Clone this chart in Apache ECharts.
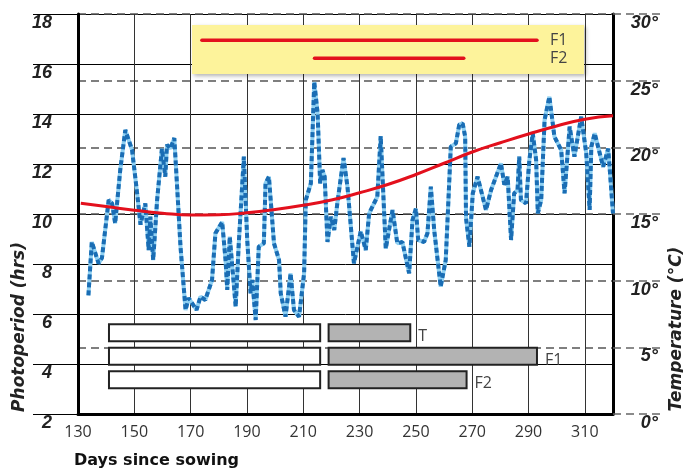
<!DOCTYPE html>
<html>
<head>
<meta charset="utf-8">
<script src="https://cdn.jsdelivr.net/npm/echarts@6/dist/echarts.min.js"></script>
<style>
  html, body { margin: 0; padding: 0; background: #fff; }
  #main { width: 683px; height: 470px; }
</style>
</head>
<body>
<div id="main"></div>
<script>
// photoperiod (red, left axis)
var photoDays = [131, 140, 150, 160, 170, 180, 190, 200, 210, 220, 230, 240, 250, 260, 270, 280, 290, 300, 310, 320];
var photoHrs = [10.43, 10.3, 10.15, 10.03, 9.96, 9.97, 10.05, 10.18, 10.35, 10.56, 10.85, 11.18, 11.58, 12.03, 12.48, 12.85, 13.2, 13.52, 13.79, 13.93];

// daily temperature (blue, right axis)
var tempDays = [133.7, 134.9, 137.3, 138.5, 140.9, 142.1, 143.2, 145.0, 146.8, 149.2, 151.0, 152.2, 153.9, 155.1, 155.7, 156.7, 158.1, 159.8, 161.0, 161.6,
  162.8, 164.2, 165.2, 166.4, 168.2, 169.3, 172.1, 173.5, 175.2, 177.6, 178.8, 181.2, 182.4, 183.0, 183.9, 184.8, 186.0, 187.1, 188.9, 190.1,
  191.3, 191.9, 193.1, 194.2, 196.0, 196.6, 197.8, 199.6, 201.4, 202.0, 203.7, 205.5, 206.7, 208.5, 210.3, 210.9, 212.7, 213.9, 215.1, 216.0,
  216.8, 217.6, 218.6, 219.8, 221.0, 222.1, 224.3, 225.7, 228.0, 230.4, 232.2, 233.4, 236.3, 237.5, 239.3, 241.7, 243.4, 245.2, 247.6, 248.8,
  250.0, 250.8, 252.9, 254.1, 255.3, 256.5, 258.8, 260.6, 262.4, 264.2, 265.4, 266.6, 267.5, 267.8, 269.0, 270.2, 271.9, 274.9, 276.7, 280.2,
  281.4, 282.6, 283.8, 284.9, 286.1, 286.7, 287.3, 289.1, 290.3, 291.5, 292.7, 293.3, 294.5, 295.7, 297.4, 299.2, 301.6, 302.8, 304.6, 306.3,
  308.7, 310.5, 311.7, 312.3, 313.5, 316.5, 318.3, 320.0];
var tempVals = [8.9, 12.9, 11.3, 11.7, 16.05, 15.8, 14.3, 18.3, 21.3, 19.8, 16.55, 14.2, 15.8, 12.3, 14.8, 11.55, 16.05, 19.9, 17.8, 20.2,
  19.9, 20.7, 17.05, 12.55, 7.8, 8.7, 7.8, 8.8, 8.55, 10.05, 13.55, 14.4, 11.55, 9.3, 13.3, 11.05, 8.05, 12.8, 19.3, 13.05,
  9.05, 10.05, 7.05, 12.55, 12.8, 17.3, 17.8, 12.8, 11.55, 9.05, 7.3, 10.55, 7.8, 7.3, 10.55, 16.05, 17.3, 24.9, 22.55, 17.3,
  18.3, 17.8, 12.9, 14.8, 13.8, 15.8, 19.2, 17.05, 11.3, 13.7, 12.3, 15.05, 16.3, 20.85, 12.4, 15.3, 12.8, 12.9, 10.55, 14.55,
  15.4, 13.05, 12.9, 13.55, 17.05, 13.8, 9.55, 11.55, 20.05, 20.3, 21.7, 21.8, 20.8, 14.7, 12.55, 16.55, 17.8, 15.3, 16.8, 18.8,
  17.2, 17.8, 13.05, 16.55, 16.8, 19.3, 16.05, 15.8, 19.05, 21.05, 19.05, 15.05, 16.05, 22.05, 23.8, 20.8, 19.8, 16.55, 21.55, 19.3,
  22.3, 19.55, 15.3, 20.05, 21.05, 18.55, 19.9, 15.05];

// phase bars (rows T, F1, F2): white phase then grey phase
var phaseRows = ['T', 'F1', 'F2'];
var vegStart = [141, 141, 141];
var vegEnd = [216, 216, 216];
var repStart = [219, 219, 219];
var repEnd = [248, 293, 268];

// legend lines in the yellow box
var f1Days = [174, 293];
var f2Days = [214, 267];
var f1Level = 16.95;
var f2Level = 16.23;

function pairs(xs, ys) {
  var out = [];
  for (var i = 0; i < xs.length; i++) out.push([xs[i], ys[i]]);
  return out;
}

var barData = [];
for (var i = 0; i < phaseRows.length; i++) {
  barData.push([i, vegStart[i], vegEnd[i], 0]);
  barData.push([i, repStart[i], repEnd[i], 1]);
}

var numFont = { fontFamily: 'Liberation Sans', fontStyle: 'italic', fontWeight: 'bold', fontSize: 18, color: '#222' };

var chart = echarts.init(document.getElementById('main'), null, { renderer: 'canvas' });

var option = {
  animation: false,
  grid: [
    { left: 78, right: 70, top: 14, bottom: 56 },
    { left: 78, right: 70, top: 321, height: 70.5 }
  ],
  xAxis: [{
    type: 'value', gridIndex: 0, min: 130, max: 320, interval: 20,
    axisLine: { lineStyle: { color: '#000', width: 3 } },
    axisTick: { show: false },
    splitLine: { show: true, lineStyle: { color: '#333', width: 1 } },
    axisLabel: { margin: 10, fontSize: 16, color: '#333', fontFamily: 'Open Sans', showMaxLabel: false,
      formatter: function (v) { return v >= 320 ? '' : v; } }
  }, {
    type: 'value', gridIndex: 1, min: 130, max: 320, show: false
  }],
  yAxis: [{
    type: 'value', gridIndex: 0, min: 2, max: 18, interval: 2, position: 'left',
    axisLine: { show: true, lineStyle: { color: '#000', width: 3 } },
    axisTick: { show: true, length: 45, lineStyle: { color: '#000', width: 1 } },
    splitLine: { show: true, lineStyle: { color: '#000', width: 1 } },
    axisLabel: Object.assign({ margin: 26, align: 'right', verticalAlign: 'top' }, numFont)
  }, {
    type: 'value', gridIndex: 0, min: 0, max: 30, interval: 5, position: 'right',
    axisLine: { show: true, lineStyle: { color: '#000', width: 3 } },
    axisTick: { show: true, length: 47, lineStyle: { color: '#666', width: 1.5, type: [8, 5] } },
    splitLine: { show: true, lineStyle: { color: '#555', width: 1.5, type: [8, 5] } },
    axisLabel: Object.assign({ margin: 45, align: 'right', verticalAlign: 'top', formatter: '{value}°' }, numFont)
  }, {
    type: 'category', gridIndex: 1, data: phaseRows, inverse: true, show: false
  }],
  graphic: [
    { type: 'rect', z: 3, shape: { x: 192, y: 25, width: 392, height: 49 },
      style: { fill: '#fdf39b', shadowBlur: 4, shadowColor: 'rgba(0,0,0,0.3)', shadowOffsetX: 2, shadowOffsetY: 2 } },
    { type: 'text', z: 5, x: 550, y: 40, style: { text: 'F1', fill: '#444', font: '16px "Open Sans"', verticalAlign: 'middle' } },
    { type: 'text', z: 5, x: 550, y: 58, style: { text: 'F2', fill: '#444', font: '16px "Open Sans"', verticalAlign: 'middle' } },
    { type: 'text', x: 20, y: 327, rotation: Math.PI / 2,
      style: { text: 'Photoperiod (hrs)', fill: '#222', font: 'italic bold 17px "DejaVu Sans"', align: 'center', verticalAlign: 'middle' } },
    { type: 'text', x: 677, y: 329, rotation: Math.PI / 2,
      style: { text: 'Temperature (°C)', fill: '#222', font: 'italic bold 17px "DejaVu Sans"', align: 'center', verticalAlign: 'middle' } },
    { type: 'text', x: 74, y: 461,
      style: { text: 'Days since sowing', fill: '#111', font: 'bold 16px "DejaVu Sans"', verticalAlign: 'middle' } }
  ],
  series: [
    // temperature: light base + dark dashes
    { type: 'line', xAxisIndex: 0, yAxisIndex: 1, data: pairs(tempDays, tempVals), showSymbol: false, z: 2,
      lineStyle: { color: '#8fd0f2', width: 4 } },
    { type: 'line', xAxisIndex: 0, yAxisIndex: 1, data: pairs(tempDays, tempVals), showSymbol: false, z: 2,
      lineStyle: { color: '#1a6db4', width: 4, type: [5, 3] } },
    // photoperiod
    { type: 'line', xAxisIndex: 0, yAxisIndex: 0, data: pairs(photoDays, photoHrs), smooth: true, showSymbol: false, z: 3,
      lineStyle: { color: '#e3101d', width: 3 } },
    // legend box lines
    { type: 'line', xAxisIndex: 0, yAxisIndex: 0, data: [[f1Days[0], f1Level], [f1Days[1], f1Level]], showSymbol: false, z: 4,
      lineStyle: { color: '#e3101d', width: 3.5, cap: 'round' } },
    { type: 'line', xAxisIndex: 0, yAxisIndex: 0, data: [[f2Days[0], f2Level], [f2Days[1], f2Level]], showSymbol: false, z: 4,
      lineStyle: { color: '#e3101d', width: 3.5, cap: 'round' } },
    // phase bars
    {
      type: 'custom', xAxisIndex: 1, yAxisIndex: 2, data: barData, z: 4,
      renderItem: function (params, api) {
        var row = api.value(0);
        var s = api.coord([api.value(1), row]);
        var e = api.coord([api.value(2), row]);
        var h = api.size([0, 1])[1] * 0.72;
        var grey = api.value(3) === 1;
        var kids = [{
          type: 'rect',
          shape: { x: s[0], y: s[1] - h / 2, width: e[0] - s[0], height: h },
          style: { fill: grey ? '#b3b3b3' : '#fff', stroke: '#222', lineWidth: 2 }
        }];
        if (grey) {
          kids.push({
            type: 'text', x: e[0] + 8, y: e[1] + 4,
            style: { text: phaseRows[row], fill: '#444', font: '16px "Open Sans"', verticalAlign: 'middle' }
          });
        }
        return { type: 'group', children: kids };
      }
    }
  ]
};

chart.setOption(option);
</script>
</body>
</html>
